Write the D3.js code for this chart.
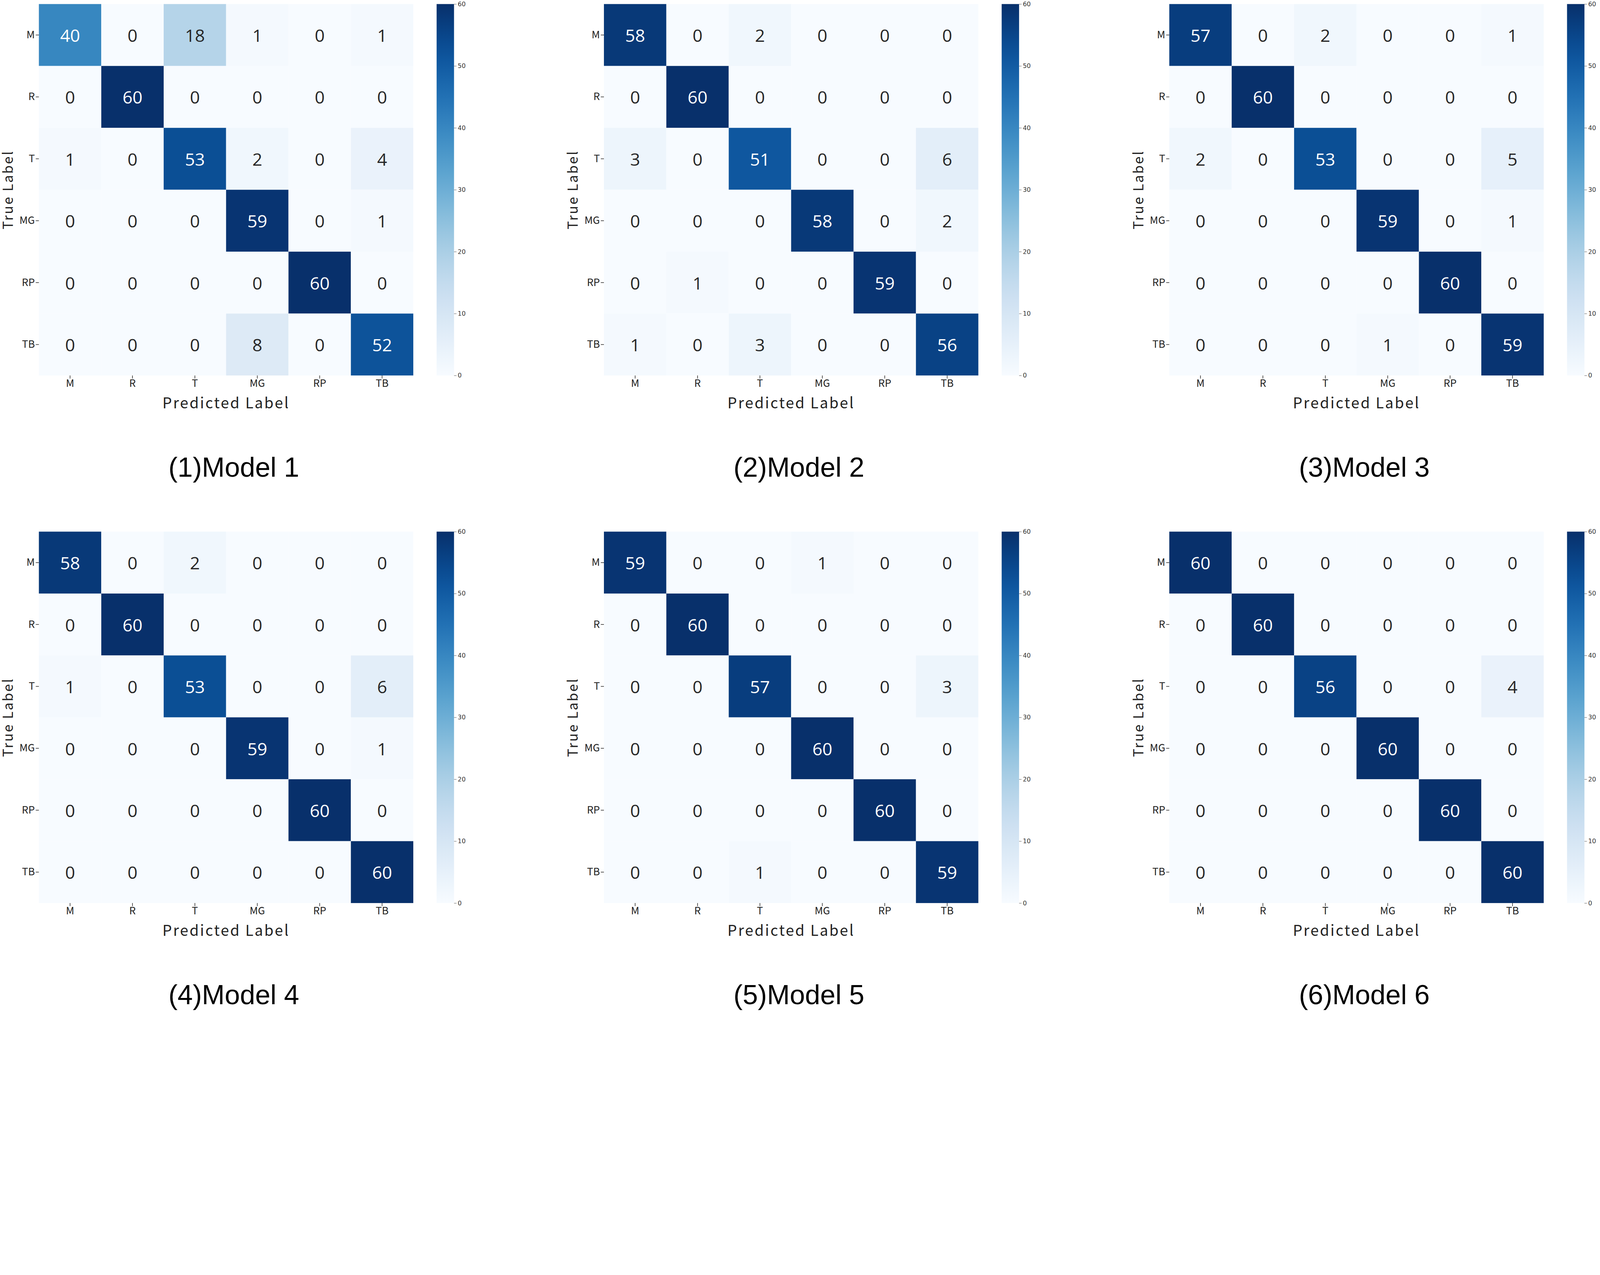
<!DOCTYPE html>
<html><head><meta charset="utf-8">
<script src="https://d3js.org/d3.v7.min.js"></script>
<style>html,body{margin:0;padding:0;background:#fff;overflow:hidden}svg{display:block;width:100vw;height:100vh}</style></head>
<body><svg id="c" viewBox="0 0 5145 3263" preserveAspectRatio="xMidYMin meet"></svg>
<script>
const classes = ["M","R","T","MG","RP","TB"];
const titles = ["(1)Model 1","(2)Model 2","(3)Model 3","(4)Model 4","(5)Model 5","(6)Model 6"];
const model1 = [[40,0,18,1,0,1],[0,60,0,0,0,0],[1,0,53,2,0,4],[0,0,0,59,0,1],[0,0,0,0,60,0],[0,0,0,8,0,52]];
const model2 = [[58,0,2,0,0,0],[0,60,0,0,0,0],[3,0,51,0,0,6],[0,0,0,58,0,2],[0,1,0,0,59,0],[1,0,3,0,0,56]];
const model3 = [[57,0,2,0,0,1],[0,60,0,0,0,0],[2,0,53,0,0,5],[0,0,0,59,0,1],[0,0,0,0,60,0],[0,0,0,1,0,59]];
const model4 = [[58,0,2,0,0,0],[0,60,0,0,0,0],[1,0,53,0,0,6],[0,0,0,59,0,1],[0,0,0,0,60,0],[0,0,0,0,0,60]];
const model5 = [[59,0,0,1,0,0],[0,60,0,0,0,0],[0,0,57,0,0,3],[0,0,0,60,0,0],[0,0,0,0,60,0],[0,0,1,0,0,59]];
const model6 = [[60,0,0,0,0,0],[0,60,0,0,0,0],[0,0,56,0,0,4],[0,0,0,60,0,0],[0,0,0,0,60,0],[0,0,0,0,0,60]];
const cbTicks = [0,10,20,30,40,50,60];
const models = [model1,model2,model3,model4,model5,model6];

const svg = d3.select("#c");
const color = d3.scaleSequential(d3.interpolateBlues).domain([0,60]);
const defs = svg.append("defs");
const grad = defs.append("linearGradient").attr("id","cb").attr("x1",0).attr("y1",1).attr("x2",0).attr("y2",0);
d3.range(0,1.0001,0.05).forEach(t=>grad.append("stop").attr("offset",t).attr("stop-color",d3.interpolateBlues(t)));

const colX = [125,1942,3760], rowY = [13,1709];
const W = 1204, H = 1194;
const tickFont = "'Noto Sans CJK SC','DejaVu Sans Mono',monospace";

models.forEach((m,k)=>{
  const g = svg.append("g").attr("transform",`translate(${colX[k%3]},${rowY[Math.floor(k/3)]})`);
  const x = d3.scaleBand().domain(classes).range([0,W]);
  const y = d3.scaleBand().domain(classes).range([0,H]);
  const cells = [];
  m.forEach((row,i)=>row.forEach((v,j)=>cells.push({t:classes[i],p:classes[j],v})));
  g.selectAll("rect.cell").data(cells).join("rect")
    .attr("x",d=>x(d.p)).attr("y",d=>y(d.t)).attr("width",x.bandwidth()).attr("height",y.bandwidth())
    .attr("fill",d=>color(d.v));
  g.selectAll("text.v").data(cells).join("text")
    .attr("x",d=>x(d.p)+x.bandwidth()/2).attr("y",d=>y(d.t)+y.bandwidth()/2)
    .attr("text-anchor","middle").attr("dominant-baseline","central")
    .attr("font-family","'Open Sans','Noto Sans',sans-serif").attr("font-size",56)
    .attr("fill",d=>d.v>30?"#fff":"#262626").text(d=>d.v);
  const xa = g.append("g").attr("transform",`translate(0,${H})`).call(d3.axisBottom(x).tickSize(10).tickPadding(3));
  const ya = g.append("g").call(d3.axisLeft(y).tickSize(10).tickPadding(3));
  [xa,ya].forEach(a=>{a.select(".domain").remove();
    a.selectAll("text").attr("font-family",tickFont).attr("font-size",33).attr("fill","#222");
    a.selectAll("line").attr("stroke","#333").attr("stroke-width",2);});
  g.append("text").attr("x",W/2).attr("y",H+106).attr("text-anchor","middle")
    .attr("font-family",tickFont).attr("font-size",48).attr("letter-spacing",4).attr("fill","#222").text("Predicted Label");
  g.append("text").attr("transform",`translate(-84,${H/2}) rotate(-90)`).attr("text-anchor","middle")
    .attr("font-family",tickFont).attr("font-size",44).attr("letter-spacing",4).attr("fill","#222").text("True Label");
  const cb = g.append("g").attr("transform",`translate(${W+75},0)`);
  cb.append("rect").attr("width",56).attr("height",H).attr("fill","url(#cb)");
  const cy = d3.scaleLinear().domain([0,60]).range([H,0]);
  const ca = cb.append("g").attr("transform","translate(56,0)").call(d3.axisRight(cy).tickValues(cbTicks).tickSize(8).tickPadding(4));
  ca.select(".domain").remove();
  ca.selectAll("text").attr("font-family","'DejaVu Sans',sans-serif").attr("font-size",20).attr("fill","#333");
  ca.selectAll("line").attr("stroke","#333");
  g.append("text").attr("x",W/2+25).attr("y",H+325).attr("text-anchor","middle")
    .attr("font-family","'Liberation Sans',Arial,sans-serif").attr("font-size",88).attr("fill","#000").text(titles[k]);
});
</script></body></html>
